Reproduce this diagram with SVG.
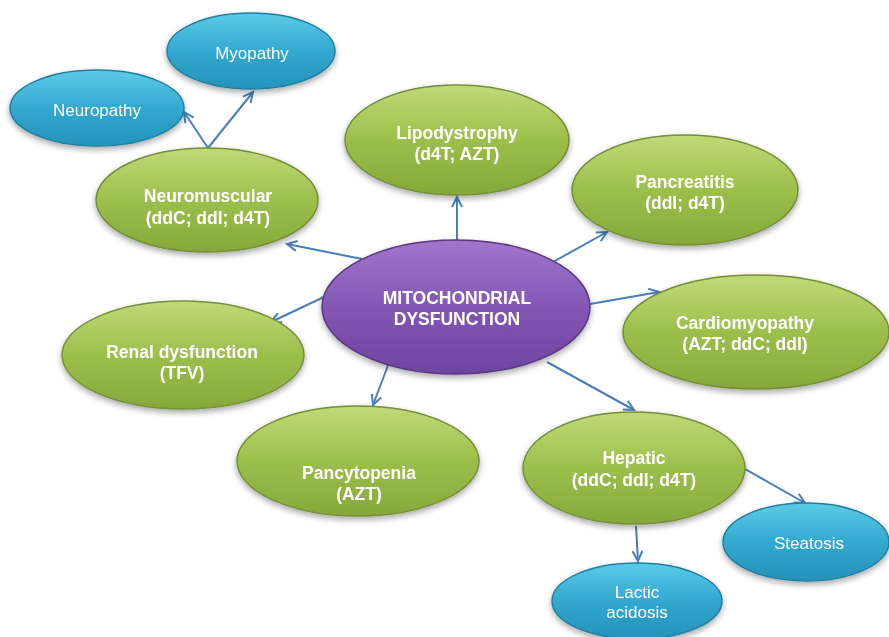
<svg xmlns="http://www.w3.org/2000/svg" width="889" height="637" viewBox="0 0 889 637">
<style>
.g{fill:url(#gGreen);stroke:#748f38;stroke-width:1.5}
.b{fill:url(#gBlue);stroke:#1f7fa0;stroke-width:1.5}
.p{fill:url(#gPurple);stroke:#5b3583;stroke-width:1.5}
.t{font-family:"Liberation Sans",Arial,sans-serif;font-size:17px;fill:#fff;text-anchor:middle}
.tb{font-weight:bold;font-size:17.5px}
.c{stroke:#4a7ebb;stroke-width:2;fill:none;marker-end:url(#arr)}
</style>
<defs>
<linearGradient id="gGreen" x1="0" y1="0" x2="0" y2="1">
<stop offset="0" stop-color="#c0da78"/><stop offset="0.5" stop-color="#9cbf4b"/><stop offset="1" stop-color="#86a83a"/>
</linearGradient>
<linearGradient id="gBlue" x1="0" y1="0" x2="0" y2="1">
<stop offset="0" stop-color="#5ccbe8"/><stop offset="0.5" stop-color="#32a9d0"/><stop offset="1" stop-color="#2592b8"/>
</linearGradient>
<linearGradient id="gPurple" x1="0" y1="0" x2="0" y2="1">
<stop offset="0" stop-color="#a077cc"/><stop offset="0.5" stop-color="#8357b3"/><stop offset="1" stop-color="#6e44a0"/>
</linearGradient>
<filter id="sh" x="-20%" y="-20%" width="140%" height="150%">
<feGaussianBlur in="SourceAlpha" stdDeviation="3"/>
<feOffset dx="0" dy="3" result="o"/>
<feComponentTransfer><feFuncA type="linear" slope="0.35"/></feComponentTransfer>
<feMerge><feMergeNode/><feMergeNode in="SourceGraphic"/></feMerge>
</filter>
<marker id="arr" markerUnits="userSpaceOnUse" markerWidth="14" markerHeight="14" refX="11" refY="6" orient="auto">
<path d="M1,1 L11,6 L1,11" fill="none" stroke="#4a7ebb" stroke-width="2"/>
</marker>
</defs>
<rect width="889" height="637" fill="#fff"/>
<g id="connectors">
<line class="c" x1="362" y1="259" x2="287" y2="244"/>
<line class="c" x1="457" y1="241" x2="457" y2="197"/>
<line class="c" x1="553" y1="262" x2="607" y2="232"/>
<line class="c" x1="590" y1="304" x2="659" y2="292"/>
<line class="c" x1="326" y1="296" x2="271" y2="322"/>
<line class="c" x1="390" y1="360" x2="373" y2="405"/>
<line class="c" x1="547" y1="362" x2="634" y2="410"/>
<line class="c" x1="208" y1="148" x2="184" y2="112"/>
<line class="c" x1="208" y1="148" x2="253" y2="92"/>
<line class="c" x1="745" y1="469" x2="805" y2="503"/>
<line class="c" x1="636" y1="526" x2="638" y2="561"/>
</g>
<g id="myopathy" filter="url(#sh)">
<ellipse class="b" cx="251" cy="51" rx="84" ry="38"/>
<text class="t" x="252" y="59">Myopathy</text>
</g>
<g id="neuropathy" filter="url(#sh)">
<ellipse class="b" cx="97" cy="108" rx="87" ry="38"/>
<text class="t" x="97" y="116">Neuropathy</text>
</g>
<g id="neuromuscular" filter="url(#sh)">
<ellipse class="g" cx="207" cy="200" rx="111" ry="52"/>
<text class="t tb" x="208" y="202">Neuromuscular</text>
<text class="t tb" x="208" y="224">(ddC; ddI; d4T)</text>
</g>
<g id="lipodystrophy" filter="url(#sh)">
<ellipse class="g" cx="457" cy="140" rx="112" ry="55"/>
<text class="t tb" x="457" y="139">Lipodystrophy</text>
<text class="t tb" x="457" y="160">(d4T; AZT)</text>
</g>
<g id="pancreatitis" filter="url(#sh)">
<ellipse class="g" cx="685" cy="190" rx="113" ry="55"/>
<text class="t tb" x="685" y="188">Pancreatitis</text>
<text class="t tb" x="685" y="209">(ddI; d4T)</text>
</g>
<g id="mitochondrial" filter="url(#sh)">
<ellipse class="p" cx="456" cy="307" rx="134" ry="67"/>
<text class="t tb" x="457" y="304">MITOCHONDRIAL</text>
<text class="t tb" x="457" y="325">DYSFUNCTION</text>
</g>
<g id="cardiomyopathy" filter="url(#sh)">
<ellipse class="g" cx="756" cy="332" rx="133" ry="57"/>
<text class="t tb" x="745" y="329">Cardiomyopathy</text>
<text class="t tb" x="745" y="350">(AZT; ddC; ddI)</text>
</g>
<g id="renal" filter="url(#sh)">
<ellipse class="g" cx="183" cy="355" rx="121" ry="54"/>
<text class="t tb" x="182" y="358">Renal dysfunction</text>
<text class="t tb" x="182" y="379">(TFV)</text>
</g>
<g id="pancytopenia" filter="url(#sh)">
<ellipse class="g" cx="358" cy="461" rx="121" ry="55"/>
<text class="t tb" x="359" y="479">Pancytopenia</text>
<text class="t tb" x="359" y="500">(AZT)</text>
</g>
<g id="hepatic" filter="url(#sh)">
<ellipse class="g" cx="634" cy="468" rx="111" ry="56"/>
<text class="t tb" x="634" y="464">Hepatic</text>
<text class="t tb" x="634" y="486">(ddC; ddI; d4T)</text>
</g>
<g id="steatosis" filter="url(#sh)">
<ellipse class="b" cx="806" cy="542" rx="83" ry="39"/>
<text class="t" x="809" y="549">Steatosis</text>
</g>
<g id="lactic" filter="url(#sh)">
<ellipse class="b" cx="637" cy="601" rx="85" ry="38"/>
<text class="t" x="637" y="598">Lactic</text>
<text class="t" x="637" y="618">acidosis</text>
</g>
</svg>
